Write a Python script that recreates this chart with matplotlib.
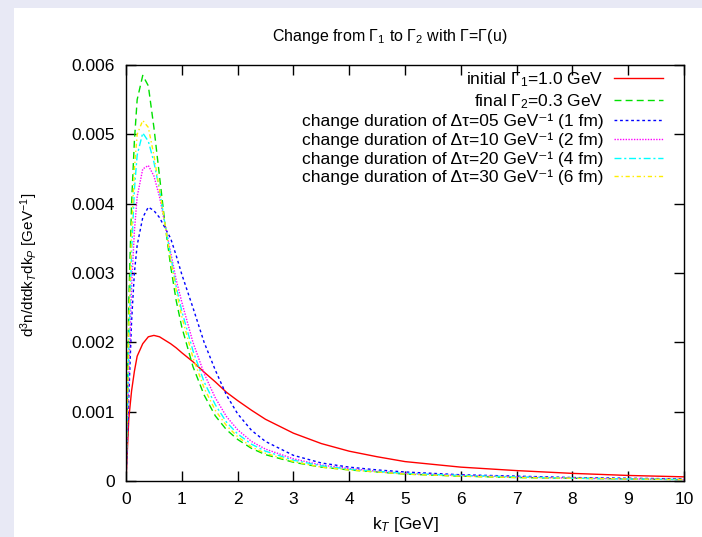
import matplotlib
matplotlib.use('Agg')
import matplotlib.pyplot as plt
from matplotlib.patches import Rectangle

plt.rcParams['font.family'] = ['Liberation Sans', 'DejaVu Sans']
plt.rcParams['mathtext.fontset'] = 'custom'
plt.rcParams['mathtext.rm'] = 'Liberation Sans'
plt.rcParams['mathtext.it'] = 'Liberation Sans:italic'

# k_T grid [GeV] and spectra
kt = [0, 0.05, 0.1, 0.15, 0.2, 0.3, 0.4, 0.5, 0.6, 0.7, 0.8, 0.9, 1.0, 1.2, 1.4,
      1.6, 1.8, 2.0, 2.25, 2.5, 3.0, 3.5, 4.0, 4.5, 5, 6, 7, 8, 9, 10]

initial_g1 = [0, 0.0009, 0.0013, 0.00158, 0.0018, 0.00198, 0.00208, 0.0021, 0.00208,
              0.00203, 0.00198, 0.00192, 0.00185, 0.00172, 0.00157, 0.00143, 0.00128,
              0.00116, 0.00102, 0.00089, 0.00069, 0.00054, 0.00043, 0.00035, 0.00028,
              0.0002, 0.00015, 0.00011, 0.00008, 0.00006]
final_g2 = [0, 0.0026, 0.0040, 0.0049, 0.0055, 0.00585, 0.0057, 0.0051, 0.0044, 0.0037,
            0.0031, 0.0026, 0.00222, 0.00165, 0.00124, 0.00094, 0.00074, 0.0006, 0.00047,
            0.00038, 0.00027, 0.0002, 0.00016, 0.00013, 0.0001, 0.00007, 0.00005,
            0.00004, 0.00003, 0.00002]
dtau05 = [0, 0.0012, 0.0023, 0.003, 0.0034, 0.0038, 0.00395, 0.0039, 0.0038, 0.00365,
          0.0035, 0.00325, 0.00298, 0.0025, 0.002, 0.0016, 0.00124, 0.00097, 0.00073,
          0.00057, 0.00037, 0.00026, 0.0002, 0.00016, 0.00013, 0.00009, 0.00007,
          0.00005, 0.00004, 0.00003]
dtau10 = [0, 0.0015, 0.0028, 0.0036, 0.0041, 0.0045, 0.00455, 0.0044, 0.0041, 0.0037,
          0.0033, 0.0029, 0.00258, 0.002, 0.00155, 0.0012, 0.00093, 0.00074, 0.00057,
          0.00046, 0.00032, 0.00023, 0.00018, 0.00014, 0.00011, 0.00008, 0.00006,
          0.00004, 0.00003, 0.00002]
dtau20 = [0, 0.0019, 0.0033, 0.0042, 0.0047, 0.00502, 0.0049, 0.0046, 0.0042, 0.0037,
          0.00325, 0.0028, 0.00245, 0.00188, 0.00143, 0.0011, 0.00085, 0.00068, 0.00053,
          0.00043, 0.0003, 0.00022, 0.00017, 0.00014, 0.00011, 0.00008, 0.00006,
          0.00004, 0.00003, 0.00002]
dtau30 = [0, 0.0022, 0.0036, 0.0045, 0.005, 0.0052, 0.0051, 0.0047, 0.0042, 0.0037,
          0.0032, 0.00275, 0.00237, 0.00178, 0.00134, 0.00102, 0.0008, 0.00064, 0.00049,
          0.0004, 0.00028, 0.0002, 0.00016, 0.00013, 0.0001, 0.00007, 0.00005,
          0.00004, 0.00003, 0.00002]

labels = ['initial Γ$_1$=1.0 GeV',
          'final Γ$_2$=0.3 GeV',
          'change duration of Δτ=05 GeV⁻¹ (1 fm)',
          'change duration of Δτ=10 GeV⁻¹ (2 fm)',
          'change duration of Δτ=20 GeV⁻¹ (4 fm)',
          'change duration of Δτ=30 GeV⁻¹ (6 fm)']

fig = plt.figure(figsize=(7.02, 5.37), dpi=100)
fig.patch.set_facecolor('#e8e9f5')
fig.add_artist(Rectangle((14 / 702, 0), 1, 1 - 8 / 537, transform=fig.transFigure,
                         facecolor='white', edgecolor='none', zorder=0))

ax = fig.add_axes([126 / 702, 1 - 481 / 537, (684 - 126) / 702, (481 - 65) / 537])

ax.plot(kt, initial_g1, color='#ff0000', lw=1.0, label=labels[0])
ax.plot(kt, final_g2, color='#00e000', lw=1.0, dashes=(5, 3), label=labels[1])
ax.plot(kt, dtau05, color='#0000ff', lw=1.0, dashes=(2, 2), label=labels[2])
ax.plot(kt, dtau10, color='#ff00ff', lw=1.0, dashes=(1, 1), label=labels[3])
ax.plot(kt, dtau20, color='#00ffff', lw=1.0, dashes=(5, 2, 1.5, 2), label=labels[4])
ax.plot(kt, dtau30, color='#ffee00', lw=1.0, dashes=(3, 2, 1, 2), label=labels[5])

ax.set_xlim(0, 10)
ax.set_ylim(0, 0.006)
ax.set_xticks(range(0, 11))
ax.set_yticks([0, 0.001, 0.002, 0.003, 0.004, 0.005, 0.006])
ax.set_yticklabels(['0', '0.001', '0.002', '0.003', '0.004', '0.005', '0.006'])
ax.tick_params(direction='in', top=True, right=True, length=7, width=1,
               labelsize=12.5, pad=8)
for s in ax.spines.values():
    s.set_linewidth(1.0)

fig.text(390 / 702, 1 - 36 / 537, 'Change from Γ$_1$ to Γ$_2$ with Γ=Γ(u)',
         fontsize=11.5, ha='center', va='center')
ax.set_xlabel('k$_T$ [GeV]', fontsize=12.5, labelpad=6)
ax.set_ylabel('d$^3$n/dtdk$_T$dk$_P$ [GeV$^{-1}$]', fontsize=11)
ax.yaxis.set_label_coords(-(126 - 40) / 558, 0.52)

ax.legend(loc='upper right', bbox_to_anchor=(0.971, 1.0), frameon=False,
          markerfirst=False, fontsize=12.5, handlelength=2.8, labelspacing=0.18,
          borderaxespad=0.0, borderpad=0.3, handletextpad=0.6)

fig.savefig('out.png', dpi=100, facecolor=fig.get_facecolor())
